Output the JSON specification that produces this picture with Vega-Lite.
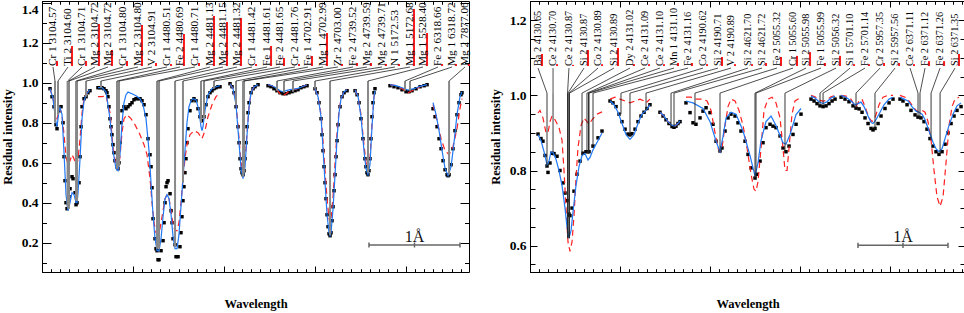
{
"$schema":"https://vega.github.io/schema/vega-lite/v6.json",
"padding":0,
"spacing":17,
"background":"white",
"config":{
 "view":{"stroke":"#000","strokeWidth":1},
 "axis":{"domain":false,"grid":false,"labels":false,"tickColor":"#000","tickWidth":1,"labelFont":"Liberation Serif","labelFontSize":13.5,"labelFontWeight":"bold","labelColor":"#000","titleFont":"Liberation Serif","titleFontSize":12.5,"titleFontWeight":"bold","titleColor":"#000"},
 "text":{"font":"Liberation Serif"}
},
"datasets":{
"lobs":[
{"s":1,"x":0.088,"v":0.97},{"s":1,"x":0.110,"v":0.93},{"s":1,"x":0.132,"v":0.88},{"s":1,"x":0.154,"v":0.79},{"s":1,"x":0.165,"v":0.77},{"s":1,"x":0.187,"v":0.86},{"s":1,"x":0.209,"v":0.88},{"s":1,"x":0.231,"v":0.80},{"s":1,"x":0.242,"v":0.63},{"s":1,"x":0.253,"v":0.51},{"s":1,"x":0.264,"v":0.40},{"s":1,"x":0.275,"v":0.37},{"s":1,"x":0.297,"v":0.43},{"s":1,"x":0.308,"v":0.47},{"s":1,"x":0.330,"v":0.53},{"s":1,"x":0.341,"v":0.52},{"s":1,"x":0.363,"v":0.45},{"s":1,"x":0.374,"v":0.39},{"s":1,"x":0.385,"v":0.40},{"s":1,"x":0.407,"v":0.50},{"s":1,"x":0.418,"v":0.63},{"s":1,"x":0.429,"v":0.78},{"s":1,"x":0.440,"v":0.88},{"s":1,"x":0.462,"v":0.92},{"s":1,"x":0.484,"v":0.93},{"s":1,"x":0.505,"v":0.95},{"s":1,"x":0.527,"v":0.96},
{"s":2,"x":0.615,"v":0.975},{"s":2,"x":0.637,"v":0.975},{"s":2,"x":0.659,"v":0.975},{"s":2,"x":0.681,"v":0.97},{"s":2,"x":0.703,"v":0.96},{"s":2,"x":0.714,"v":0.95},{"s":2,"x":0.725,"v":0.93},{"s":2,"x":0.736,"v":0.88},{"s":2,"x":0.747,"v":0.82},{"s":2,"x":0.758,"v":0.78},{"s":2,"x":0.769,"v":0.74},{"s":2,"x":0.780,"v":0.69},{"s":2,"x":0.791,"v":0.65},{"s":2,"x":0.802,"v":0.61},{"s":2,"x":0.824,"v":0.58},{"s":2,"x":0.835,"v":0.57},{"s":2,"x":0.846,"v":0.60},{"s":2,"x":0.857,"v":0.70},{"s":2,"x":0.868,"v":0.80},{"s":2,"x":0.879,"v":0.86},{"s":2,"x":0.901,"v":0.88},{"s":2,"x":0.923,"v":0.87},{"s":2,"x":0.945,"v":0.88},{"s":2,"x":0.967,"v":0.89},{"s":2,"x":0.989,"v":0.90},{"s":2,"x":1.011,"v":0.915},{"s":2,"x":1.033,"v":0.92},{"s":2,"x":1.055,"v":0.92},{"s":2,"x":1.077,"v":0.92},{"s":2,"x":1.099,"v":0.91},{"s":2,"x":1.121,"v":0.89},{"s":2,"x":1.143,"v":0.84},{"s":2,"x":1.165,"v":0.72},{"s":2,"x":1.187,"v":0.64},{"s":2,"x":1.198,"v":0.58},{"s":2,"x":1.209,"v":0.475},{"s":2,"x":1.220,"v":0.32},{"s":2,"x":1.242,"v":0.22},{"s":2,"x":1.253,"v":0.17},{"s":2,"x":1.264,"v":0.16},{"s":2,"x":1.275,"v":0.115},{"s":2,"x":1.286,"v":0.115},{"s":2,"x":1.308,"v":0.16},{"s":2,"x":1.330,"v":0.21},{"s":2,"x":1.341,"v":0.30},{"s":2,"x":1.352,"v":0.40},{"s":2,"x":1.363,"v":0.48},{"s":2,"x":1.374,"v":0.50},{"s":2,"x":1.385,"v":0.51},{"s":2,"x":1.407,"v":0.445},{"s":2,"x":1.418,"v":0.36},{"s":2,"x":1.429,"v":0.30},{"s":2,"x":1.440,"v":0.22},{"s":2,"x":1.462,"v":0.19},{"s":2,"x":1.473,"v":0.13},{"s":2,"x":1.495,"v":0.13},{"s":2,"x":1.516,"v":0.18},{"s":2,"x":1.527,"v":0.25},{"s":2,"x":1.538,"v":0.33},{"s":2,"x":1.549,"v":0.41},{"s":2,"x":1.560,"v":0.48},{"s":2,"x":1.571,"v":0.55},{"s":2,"x":1.582,"v":0.62},{"s":2,"x":1.593,"v":0.70},{"s":2,"x":1.604,"v":0.77},{"s":2,"x":1.626,"v":0.86},{"s":2,"x":1.648,"v":0.91},{"s":2,"x":1.670,"v":0.92},{"s":2,"x":1.692,"v":0.91},{"s":2,"x":1.714,"v":0.87},{"s":2,"x":1.736,"v":0.83},{"s":2,"x":1.758,"v":0.81},{"s":2,"x":1.780,"v":0.83},{"s":2,"x":1.802,"v":0.89},{"s":2,"x":1.824,"v":0.93},{"s":2,"x":1.846,"v":0.95},{"s":2,"x":1.868,"v":0.96},{"s":2,"x":1.890,"v":0.97},{"s":2,"x":1.912,"v":0.975},{"s":2,"x":1.934,"v":0.98},{"s":2,"x":1.956,"v":0.98},
{"s":3,"x":2.066,"v":0.995},{"s":3,"x":2.088,"v":0.98},{"s":3,"x":2.110,"v":0.95},{"s":3,"x":2.132,"v":0.88},{"s":3,"x":2.154,"v":0.78},{"s":3,"x":2.165,"v":0.70},{"s":3,"x":2.176,"v":0.62},{"s":3,"x":2.187,"v":0.57},{"s":3,"x":2.198,"v":0.55},{"s":3,"x":2.209,"v":0.54},{"s":3,"x":2.220,"v":0.56},{"s":3,"x":2.231,"v":0.62},{"s":3,"x":2.242,"v":0.70},{"s":3,"x":2.253,"v":0.78},{"s":3,"x":2.264,"v":0.85},{"s":3,"x":2.275,"v":0.90},{"s":3,"x":2.297,"v":0.95},{"s":3,"x":2.319,"v":0.97},{"s":3,"x":2.341,"v":0.98},{"s":3,"x":2.374,"v":0.99},
{"s":4,"x":2.484,"v":0.985},{"s":4,"x":2.516,"v":0.98},{"s":4,"x":2.549,"v":0.97},{"s":4,"x":2.582,"v":0.96},{"s":4,"x":2.615,"v":0.95},{"s":4,"x":2.648,"v":0.945},{"s":4,"x":2.681,"v":0.945},{"s":4,"x":2.714,"v":0.95},{"s":4,"x":2.747,"v":0.955},{"s":4,"x":2.780,"v":0.96},{"s":4,"x":2.813,"v":0.965},{"s":4,"x":2.846,"v":0.975},{"s":4,"x":2.879,"v":0.98},{"s":4,"x":2.912,"v":0.985},
{"s":5,"x":3.000,"v":0.97},{"s":5,"x":3.022,"v":0.95},{"s":5,"x":3.044,"v":0.90},{"s":5,"x":3.066,"v":0.82},{"s":5,"x":3.077,"v":0.74},{"s":5,"x":3.088,"v":0.66},{"s":5,"x":3.099,"v":0.58},{"s":5,"x":3.110,"v":0.50},{"s":5,"x":3.121,"v":0.42},{"s":5,"x":3.132,"v":0.34},{"s":5,"x":3.143,"v":0.28},{"s":5,"x":3.154,"v":0.245},{"s":5,"x":3.165,"v":0.235},{"s":5,"x":3.176,"v":0.25},{"s":5,"x":3.187,"v":0.31},{"s":5,"x":3.198,"v":0.38},{"s":5,"x":3.209,"v":0.46},{"s":5,"x":3.220,"v":0.54},{"s":5,"x":3.231,"v":0.63},{"s":5,"x":3.242,"v":0.71},{"s":5,"x":3.253,"v":0.79},{"s":5,"x":3.275,"v":0.88},{"s":5,"x":3.297,"v":0.93},{"s":5,"x":3.319,"v":0.95},{"s":5,"x":3.352,"v":0.96},
{"s":6,"x":3.440,"v":0.96},{"s":6,"x":3.462,"v":0.94},{"s":6,"x":3.484,"v":0.90},{"s":6,"x":3.505,"v":0.82},{"s":6,"x":3.527,"v":0.72},{"s":6,"x":3.549,"v":0.62},{"s":6,"x":3.560,"v":0.58},{"s":6,"x":3.571,"v":0.55},{"s":6,"x":3.582,"v":0.54},{"s":6,"x":3.593,"v":0.56},{"s":6,"x":3.604,"v":0.62},{"s":6,"x":3.615,"v":0.72},{"s":6,"x":3.626,"v":0.83},{"s":6,"x":3.637,"v":0.90},{"s":6,"x":3.648,"v":0.95},{"s":6,"x":3.659,"v":0.97},
{"s":7,"x":3.824,"v":0.985},{"s":7,"x":3.868,"v":0.98},{"s":7,"x":3.912,"v":0.975},{"s":7,"x":3.956,"v":0.965},{"s":7,"x":4.000,"v":0.955},{"s":7,"x":4.033,"v":0.955},{"s":7,"x":4.066,"v":0.96},{"s":7,"x":4.110,"v":0.97},{"s":7,"x":4.154,"v":0.98},{"s":7,"x":4.198,"v":0.985},{"s":7,"x":4.231,"v":0.99},
{"s":8,"x":4.297,"v":0.87},{"s":8,"x":4.319,"v":0.83},{"s":8,"x":4.341,"v":0.78},{"s":8,"x":4.363,"v":0.72},{"s":8,"x":4.385,"v":0.67},{"s":8,"x":4.407,"v":0.61},{"s":8,"x":4.429,"v":0.565},{"s":8,"x":4.451,"v":0.54},{"s":8,"x":4.462,"v":0.535},{"s":8,"x":4.473,"v":0.54},{"s":8,"x":4.495,"v":0.59},{"s":8,"x":4.516,"v":0.67},{"s":8,"x":4.538,"v":0.76},{"s":8,"x":4.560,"v":0.84},{"s":8,"x":4.582,"v":0.90},{"s":8,"x":4.604,"v":0.94},{"s":8,"x":4.615,"v":0.95}
],
"lblue":[
{"s":1,"x":0.088,"v":0.97},{"s":1,"x":0.121,"v":0.92},{"s":1,"x":0.154,"v":0.80},{"s":1,"x":0.165,"v":0.78},{"s":1,"x":0.187,"v":0.86},{"s":1,"x":0.198,"v":0.875},{"s":1,"x":0.220,"v":0.84},{"s":1,"x":0.242,"v":0.65},{"s":1,"x":0.264,"v":0.44},{"s":1,"x":0.286,"v":0.36},{"s":1,"x":0.308,"v":0.40},{"s":1,"x":0.330,"v":0.45},{"s":1,"x":0.352,"v":0.44},{"s":1,"x":0.374,"v":0.40},{"s":1,"x":0.385,"v":0.40},{"s":1,"x":0.396,"v":0.45},{"s":1,"x":0.418,"v":0.62},{"s":1,"x":0.440,"v":0.82},{"s":1,"x":0.462,"v":0.91},{"s":1,"x":0.484,"v":0.94},{"s":1,"x":0.527,"v":0.965},
{"s":2,"x":0.615,"v":0.975},{"s":2,"x":0.659,"v":0.975},{"s":2,"x":0.703,"v":0.955},{"s":2,"x":0.747,"v":0.82},{"s":2,"x":0.780,"v":0.66},{"s":2,"x":0.813,"v":0.57},{"s":2,"x":0.835,"v":0.56},{"s":2,"x":0.857,"v":0.64},{"s":2,"x":0.879,"v":0.80},{"s":2,"x":0.901,"v":0.90},{"s":2,"x":0.923,"v":0.94},{"s":2,"x":0.945,"v":0.953},{"s":2,"x":0.989,"v":0.945},{"s":2,"x":1.033,"v":0.935},{"s":2,"x":1.077,"v":0.92},{"s":2,"x":1.110,"v":0.89},{"s":2,"x":1.143,"v":0.82},{"s":2,"x":1.176,"v":0.66},{"s":2,"x":1.198,"v":0.50},{"s":2,"x":1.220,"v":0.34},{"s":2,"x":1.242,"v":0.22},{"s":2,"x":1.264,"v":0.16},{"s":2,"x":1.286,"v":0.16},{"s":2,"x":1.308,"v":0.22},{"s":2,"x":1.330,"v":0.33},{"s":2,"x":1.352,"v":0.42},{"s":2,"x":1.374,"v":0.44},{"s":2,"x":1.396,"v":0.42},{"s":2,"x":1.418,"v":0.34},{"s":2,"x":1.440,"v":0.23},{"s":2,"x":1.462,"v":0.17},{"s":2,"x":1.484,"v":0.17},{"s":2,"x":1.505,"v":0.24},{"s":2,"x":1.527,"v":0.38},{"s":2,"x":1.549,"v":0.52},{"s":2,"x":1.571,"v":0.66},{"s":2,"x":1.593,"v":0.80},{"s":2,"x":1.615,"v":0.88},{"s":2,"x":1.637,"v":0.91},{"s":2,"x":1.659,"v":0.92},{"s":2,"x":1.692,"v":0.915},{"s":2,"x":1.725,"v":0.86},{"s":2,"x":1.747,"v":0.78},{"s":2,"x":1.758,"v":0.76},{"s":2,"x":1.769,"v":0.78},{"s":2,"x":1.791,"v":0.86},{"s":2,"x":1.824,"v":0.94},{"s":2,"x":1.868,"v":0.97},{"s":2,"x":1.912,"v":0.98},{"s":2,"x":1.956,"v":0.985},
{"s":3,"x":2.066,"v":0.995},{"s":3,"x":2.099,"v":0.97},{"s":3,"x":2.132,"v":0.89},{"s":3,"x":2.165,"v":0.70},{"s":3,"x":2.187,"v":0.57},{"s":3,"x":2.209,"v":0.52},{"s":3,"x":2.231,"v":0.58},{"s":3,"x":2.253,"v":0.74},{"s":3,"x":2.275,"v":0.88},{"s":3,"x":2.297,"v":0.95},{"s":3,"x":2.330,"v":0.98},{"s":3,"x":2.374,"v":0.99},
{"s":4,"x":2.484,"v":0.99},{"s":4,"x":2.527,"v":0.985},{"s":4,"x":2.571,"v":0.975},{"s":4,"x":2.615,"v":0.96},{"s":4,"x":2.648,"v":0.955},{"s":4,"x":2.681,"v":0.96},{"s":4,"x":2.725,"v":0.965},{"s":4,"x":2.769,"v":0.968},{"s":4,"x":2.813,"v":0.972},{"s":4,"x":2.857,"v":0.98},{"s":4,"x":2.912,"v":0.99},
{"s":5,"x":3.000,"v":0.97},{"s":5,"x":3.033,"v":0.93},{"s":5,"x":3.066,"v":0.83},{"s":5,"x":3.088,"v":0.67},{"s":5,"x":3.110,"v":0.50},{"s":5,"x":3.132,"v":0.34},{"s":5,"x":3.154,"v":0.25},{"s":5,"x":3.165,"v":0.235},{"s":5,"x":3.176,"v":0.25},{"s":5,"x":3.198,"v":0.37},{"s":5,"x":3.220,"v":0.54},{"s":5,"x":3.242,"v":0.72},{"s":5,"x":3.264,"v":0.85},{"s":5,"x":3.286,"v":0.92},{"s":5,"x":3.319,"v":0.955},{"s":5,"x":3.352,"v":0.965},
{"s":6,"x":3.440,"v":0.965},{"s":6,"x":3.473,"v":0.93},{"s":6,"x":3.505,"v":0.83},{"s":6,"x":3.538,"v":0.66},{"s":6,"x":3.560,"v":0.57},{"s":6,"x":3.582,"v":0.54},{"s":6,"x":3.604,"v":0.59},{"s":6,"x":3.626,"v":0.78},{"s":6,"x":3.648,"v":0.93},{"s":6,"x":3.659,"v":0.96},
{"s":7,"x":3.824,"v":0.99},{"s":7,"x":3.890,"v":0.985},{"s":7,"x":3.956,"v":0.975},{"s":7,"x":4.022,"v":0.963},{"s":7,"x":4.088,"v":0.97},{"s":7,"x":4.154,"v":0.982},{"s":7,"x":4.231,"v":0.99},
{"s":8,"x":4.297,"v":0.90},{"s":8,"x":4.330,"v":0.84},{"s":8,"x":4.363,"v":0.76},{"s":8,"x":4.396,"v":0.66},{"s":8,"x":4.429,"v":0.57},{"s":8,"x":4.462,"v":0.535},{"s":8,"x":4.495,"v":0.58},{"s":8,"x":4.527,"v":0.70},{"s":8,"x":4.560,"v":0.84},{"s":8,"x":4.593,"v":0.93},{"s":8,"x":4.615,"v":0.955}
],
"lred":[
{"s":1,"x":0.088,"v":0.97},{"s":1,"x":0.121,"v":0.92},{"s":1,"x":0.154,"v":0.83},{"s":1,"x":0.165,"v":0.82},{"s":1,"x":0.187,"v":0.86},{"s":1,"x":0.198,"v":0.87},{"s":1,"x":0.220,"v":0.84},{"s":1,"x":0.242,"v":0.74},{"s":1,"x":0.264,"v":0.63},{"s":1,"x":0.286,"v":0.59},{"s":1,"x":0.308,"v":0.61},{"s":1,"x":0.330,"v":0.64},{"s":1,"x":0.352,"v":0.62},{"s":1,"x":0.374,"v":0.59},{"s":1,"x":0.385,"v":0.59},{"s":1,"x":0.396,"v":0.62},{"s":1,"x":0.418,"v":0.72},{"s":1,"x":0.440,"v":0.85},{"s":1,"x":0.462,"v":0.92},{"s":1,"x":0.484,"v":0.945},{"s":1,"x":0.527,"v":0.965},
{"s":2,"x":0.615,"v":0.93},{"s":2,"x":0.659,"v":0.93},{"s":2,"x":0.703,"v":0.935},{"s":2,"x":0.747,"v":0.85},{"s":2,"x":0.780,"v":0.68},{"s":2,"x":0.813,"v":0.58},{"s":2,"x":0.835,"v":0.57},{"s":2,"x":0.857,"v":0.63},{"s":2,"x":0.879,"v":0.75},{"s":2,"x":0.901,"v":0.82},{"s":2,"x":0.934,"v":0.84},{"s":2,"x":0.978,"v":0.82},{"s":2,"x":1.022,"v":0.79},{"s":2,"x":1.077,"v":0.74},{"s":2,"x":1.121,"v":0.69},{"s":2,"x":1.154,"v":0.64},{"s":2,"x":1.187,"v":0.52},{"s":2,"x":1.209,"v":0.40},{"s":2,"x":1.231,"v":0.30},{"s":2,"x":1.253,"v":0.25},{"s":2,"x":1.275,"v":0.24},{"s":2,"x":1.297,"v":0.27},{"s":2,"x":1.330,"v":0.36},{"s":2,"x":1.352,"v":0.42},{"s":2,"x":1.374,"v":0.44},{"s":2,"x":1.396,"v":0.42},{"s":2,"x":1.418,"v":0.36},{"s":2,"x":1.440,"v":0.29},{"s":2,"x":1.462,"v":0.26},{"s":2,"x":1.484,"v":0.26},{"s":2,"x":1.505,"v":0.30},{"s":2,"x":1.527,"v":0.40},{"s":2,"x":1.549,"v":0.52},{"s":2,"x":1.571,"v":0.62},{"s":2,"x":1.593,"v":0.69},{"s":2,"x":1.626,"v":0.74},{"s":2,"x":1.670,"v":0.76},{"s":2,"x":1.714,"v":0.75},{"s":2,"x":1.758,"v":0.72},{"s":2,"x":1.791,"v":0.76},{"s":2,"x":1.824,"v":0.83},{"s":2,"x":1.868,"v":0.89},{"s":2,"x":1.912,"v":0.93},{"s":2,"x":1.956,"v":0.95},
{"s":3,"x":2.066,"v":0.995},{"s":3,"x":2.099,"v":0.97},{"s":3,"x":2.132,"v":0.90},{"s":3,"x":2.165,"v":0.72},{"s":3,"x":2.187,"v":0.60},{"s":3,"x":2.209,"v":0.555},{"s":3,"x":2.231,"v":0.60},{"s":3,"x":2.253,"v":0.75},{"s":3,"x":2.275,"v":0.88},{"s":3,"x":2.297,"v":0.95},{"s":3,"x":2.330,"v":0.98},{"s":3,"x":2.374,"v":0.99},
{"s":4,"x":2.484,"v":0.99},{"s":4,"x":2.527,"v":0.985},{"s":4,"x":2.571,"v":0.97},{"s":4,"x":2.615,"v":0.945},{"s":4,"x":2.648,"v":0.935},{"s":4,"x":2.681,"v":0.945},{"s":4,"x":2.725,"v":0.96},{"s":4,"x":2.769,"v":0.965},{"s":4,"x":2.813,"v":0.97},{"s":4,"x":2.857,"v":0.98},{"s":4,"x":2.912,"v":0.99},
{"s":5,"x":3.000,"v":0.97},{"s":5,"x":3.033,"v":0.93},{"s":5,"x":3.066,"v":0.84},{"s":5,"x":3.088,"v":0.71},{"s":5,"x":3.110,"v":0.56},{"s":5,"x":3.132,"v":0.42},{"s":5,"x":3.154,"v":0.32},{"s":5,"x":3.165,"v":0.30},{"s":5,"x":3.176,"v":0.32},{"s":5,"x":3.198,"v":0.43},{"s":5,"x":3.220,"v":0.60},{"s":5,"x":3.242,"v":0.75},{"s":5,"x":3.264,"v":0.86},{"s":5,"x":3.286,"v":0.92},{"s":5,"x":3.319,"v":0.955},{"s":5,"x":3.352,"v":0.965},
{"s":6,"x":3.440,"v":0.965},{"s":6,"x":3.473,"v":0.93},{"s":6,"x":3.505,"v":0.84},{"s":6,"x":3.538,"v":0.69},{"s":6,"x":3.560,"v":0.60},{"s":6,"x":3.582,"v":0.57},{"s":6,"x":3.604,"v":0.62},{"s":6,"x":3.626,"v":0.79},{"s":6,"x":3.648,"v":0.93},{"s":6,"x":3.659,"v":0.96},
{"s":7,"x":3.824,"v":0.99},{"s":7,"x":3.890,"v":0.985},{"s":7,"x":3.956,"v":0.97},{"s":7,"x":4.022,"v":0.95},{"s":7,"x":4.088,"v":0.965},{"s":7,"x":4.154,"v":0.98},{"s":7,"x":4.231,"v":0.99},
{"s":8,"x":4.297,"v":0.89},{"s":8,"x":4.341,"v":0.81},{"s":8,"x":4.385,"v":0.72},{"s":8,"x":4.429,"v":0.66},{"s":8,"x":4.473,"v":0.64},{"s":8,"x":4.516,"v":0.68},{"s":8,"x":4.560,"v":0.77},{"s":8,"x":4.593,"v":0.87},{"s":8,"x":4.615,"v":0.92}
],
"llab":[
{"label":"Cr 1 3104.57","lx":0.121,"tx":0.143,"vb":0.80,"rt":1.1085},
{"label":"Ti 2 3104.60","lx":0.286,"tx":0.176,"vb":0.84,"rt":1.1835},
{"label":"Cr 1 3104.71","lx":0.440,"tx":0.281,"vb":0.38,"rt":1.1085},
{"label":"Mg 2 3104.72","lx":0.582,"tx":0.291,"vb":0.37,"rt":1.2935},
{"label":"Mg 2 3104.72","lx":0.725,"tx":0.297,"vb":0.37,"rt":1.1635},
{"label":"Cr 1 3104.80","lx":0.890,"tx":0.374,"vb":0.41,"rt":1.1085},
{"label":"Mg 2 3104.80","lx":1.055,"tx":0.385,"vb":0.41,"rt":1.2885},
{"label":"V 2 3104.91","lx":1.209,"tx":0.484,"vb":0.93,"rt":1.0985},
{"label":"Cr 1 4480.51","lx":1.374,"tx":0.648,"vb":0.975,"rt":1.0935},
{"label":"Fe 2 4480.69","lx":1.516,"tx":0.824,"vb":0.57,"rt":1.2435},
{"label":"Cr 1 4480.71","lx":1.681,"tx":0.846,"vb":0.58,"rt":1.0985},
{"label":"Mg 2 4481.13","lx":1.846,"tx":1.264,"vb":0.17,"rt":1.3335},
{"label":"Mg 2 4481.15","lx":1.989,"tx":1.286,"vb":0.17,"rt":1.3035},
{"label":"Mg 2 4481.32","lx":2.143,"tx":1.462,"vb":0.18,"rt":1.3235},
{"label":"Cr 1 4481.42","lx":2.308,"tx":1.549,"vb":0.50,"rt":1.0935},
{"label":"Fe 1 4481.61","lx":2.473,"tx":1.747,"vb":0.80,"rt":1.1835},
{"label":"Fe 2 4481.65","lx":2.615,"tx":1.780,"vb":0.82,"rt":1.1235},
{"label":"Cr 2 4481.76","lx":2.780,"tx":1.890,"vb":0.97,"rt":1.0935},
{"label":"Fe 1 4702.91","lx":2.923,"tx":2.132,"vb":0.89,"rt":1.1335},
{"label":"Mg 1 4702.99","lx":3.088,"tx":2.209,"vb":0.53,"rt":1.2485},
{"label":"Zr 2 4703.00","lx":3.253,"tx":2.220,"vb":0.55,"rt":1.0935},
{"label":"Fe 2 4739.52","lx":3.418,"tx":2.582,"vb":0.96,"rt":1.0985},
{"label":"Mg 2 4739.59","lx":3.571,"tx":2.659,"vb":0.95,"rt":1.0985},
{"label":"Mg 2 4739.71","lx":3.736,"tx":2.758,"vb":0.955,"rt":1.0935},
{"label":"N 1 5172.53","lx":3.879,"tx":3.000,"vb":0.97,"rt":1.0935},
{"label":"Mg 1 5172.68","lx":4.044,"tx":3.165,"vb":0.24,"rt":1.3685},
{"label":"Mg 1 5528.40","lx":4.187,"tx":3.582,"vb":0.55,"rt":1.2485},
{"label":"Fe 2 6318.66","lx":4.352,"tx":3.989,"vb":0.96,"rt":1.0935},
{"label":"Mg 1 6318.72","lx":4.505,"tx":4.044,"vb":0.96,"rt":1.0935},
{"label":"Mg 2 7877.06","lx":4.648,"tx":4.473,"vb":0.54,"rt":1.0935}
],
"robs":[
{"s":1,"x":0.089,"v":0.897},{"s":1,"x":0.122,"v":0.885},{"s":1,"x":0.144,"v":0.878},{"s":1,"x":0.167,"v":0.84},{"s":1,"x":0.189,"v":0.812},{"s":1,"x":0.2,"v":0.795},{"s":1,"x":0.222,"v":0.82},{"s":1,"x":0.244,"v":0.846},{"s":1,"x":0.267,"v":0.845},{"s":1,"x":0.3,"v":0.838},{"s":1,"x":0.333,"v":0.80},{"s":1,"x":0.367,"v":0.767},{"s":1,"x":0.389,"v":0.74},{"s":1,"x":0.411,"v":0.72},{"s":1,"x":0.433,"v":0.684},{"s":1,"x":0.444,"v":0.68},{"s":1,"x":0.467,"v":0.70},{"s":1,"x":0.489,"v":0.745},{"s":1,"x":0.522,"v":0.79},{"s":1,"x":0.556,"v":0.825},{"s":1,"x":0.589,"v":0.846},{"s":1,"x":0.622,"v":0.85},{"s":1,"x":0.656,"v":0.85},{"s":1,"x":0.7,"v":0.865},{"s":1,"x":0.756,"v":0.887},{"s":1,"x":0.8,"v":0.905},
{"s":2,"x":0.889,"v":0.985},{"s":2,"x":0.922,"v":0.98},{"s":2,"x":0.956,"v":0.97},{"s":2,"x":0.989,"v":0.95},{"s":2,"x":1.022,"v":0.93},{"s":2,"x":1.056,"v":0.91},{"s":2,"x":1.089,"v":0.897},{"s":2,"x":1.111,"v":0.895},{"s":2,"x":1.133,"v":0.898},{"s":2,"x":1.167,"v":0.91},{"s":2,"x":1.2,"v":0.93},{"s":2,"x":1.233,"v":0.945},{"s":2,"x":1.267,"v":0.955},{"s":2,"x":1.3,"v":0.965},{"s":2,"x":1.333,"v":0.975},
{"s":3,"x":1.444,"v":0.955},{"s":3,"x":1.478,"v":0.945},{"s":3,"x":1.511,"v":0.935},{"s":3,"x":1.544,"v":0.925},{"s":3,"x":1.578,"v":0.917},{"s":3,"x":1.6,"v":0.915},{"s":3,"x":1.622,"v":0.918},{"s":3,"x":1.644,"v":0.925},{"s":3,"x":1.667,"v":0.93},
{"s":4,"x":1.733,"v":0.98},{"s":4,"x":1.778,"v":0.954},{"s":4,"x":1.811,"v":0.927},{"s":4,"x":1.844,"v":0.923},{"s":4,"x":1.889,"v":0.94},{"s":4,"x":1.922,"v":0.958},{"s":4,"x":1.956,"v":0.967},{"s":4,"x":2.0,"v":0.954},{"s":4,"x":2.033,"v":0.923},{"s":4,"x":2.067,"v":0.878},{"s":4,"x":2.111,"v":0.852},{"s":4,"x":2.133,"v":0.86},{"s":4,"x":2.167,"v":0.905},{"s":4,"x":2.2,"v":0.94},{"s":4,"x":2.233,"v":0.95},{"s":4,"x":2.278,"v":0.945},{"s":4,"x":2.311,"v":0.927},{"s":4,"x":2.344,"v":0.905},{"s":4,"x":2.389,"v":0.878},{"s":4,"x":2.422,"v":0.843},{"s":4,"x":2.456,"v":0.807},{"s":4,"x":2.5,"v":0.78},{"s":4,"x":2.522,"v":0.79},{"s":4,"x":2.556,"v":0.825},{"s":4,"x":2.589,"v":0.874},{"s":4,"x":2.622,"v":0.914},{"s":4,"x":2.667,"v":0.923},{"s":4,"x":2.7,"v":0.918},{"s":4,"x":2.733,"v":0.914},{"s":4,"x":2.778,"v":0.892},{"s":4,"x":2.811,"v":0.86},{"s":4,"x":2.844,"v":0.85},{"s":4,"x":2.878,"v":0.865},{"s":4,"x":2.922,"v":0.896},{"s":4,"x":2.956,"v":0.923},{"s":4,"x":3.011,"v":0.95},
{"s":5,"x":3.122,"v":0.99},{"s":5,"x":3.156,"v":0.985},{"s":5,"x":3.189,"v":0.978},{"s":5,"x":3.222,"v":0.972},{"s":5,"x":3.256,"v":0.97},{"s":5,"x":3.289,"v":0.972},{"s":5,"x":3.322,"v":0.978},{"s":5,"x":3.356,"v":0.985},{"s":5,"x":3.389,"v":0.99},
{"s":6,"x":3.456,"v":0.995},{"s":6,"x":3.5,"v":0.99},{"s":6,"x":3.544,"v":0.983},{"s":6,"x":3.589,"v":0.972},{"s":6,"x":3.622,"v":0.966},{"s":6,"x":3.656,"v":0.964},{"s":6,"x":3.689,"v":0.955},{"s":6,"x":3.722,"v":0.94},{"s":6,"x":3.756,"v":0.925},{"s":6,"x":3.789,"v":0.912},{"s":6,"x":3.811,"v":0.908},{"s":6,"x":3.833,"v":0.912},{"s":6,"x":3.867,"v":0.925},{"s":6,"x":3.9,"v":0.945},{"s":6,"x":3.944,"v":0.965},{"s":6,"x":3.989,"v":0.98},{"s":6,"x":4.033,"v":0.99},
{"s":7,"x":4.111,"v":0.99},{"s":7,"x":4.144,"v":0.985},{"s":7,"x":4.189,"v":0.975},{"s":7,"x":4.233,"v":0.96},{"s":7,"x":4.278,"v":0.948},{"s":7,"x":4.311,"v":0.942},{"s":7,"x":4.344,"v":0.94},{"s":7,"x":4.378,"v":0.93},{"s":7,"x":4.411,"v":0.91},{"s":7,"x":4.444,"v":0.885},{"s":7,"x":4.478,"v":0.865},{"s":7,"x":4.511,"v":0.85},{"s":7,"x":4.544,"v":0.843},{"s":7,"x":4.578,"v":0.85},{"s":7,"x":4.611,"v":0.87},{"s":7,"x":4.644,"v":0.9},{"s":7,"x":4.678,"v":0.925},{"s":7,"x":4.711,"v":0.945},{"s":7,"x":4.744,"v":0.96},{"s":7,"x":4.789,"v":0.97}
],
"rblue":[
{"s":1,"x":0.089,"v":0.895},{"s":1,"x":0.122,"v":0.88},{"s":1,"x":0.156,"v":0.85},{"s":1,"x":0.189,"v":0.815},{"s":1,"x":0.211,"v":0.825},{"s":1,"x":0.233,"v":0.85},{"s":1,"x":0.256,"v":0.848},{"s":1,"x":0.289,"v":0.83},{"s":1,"x":0.322,"v":0.80},{"s":1,"x":0.356,"v":0.76},{"s":1,"x":0.389,"v":0.70},{"s":1,"x":0.411,"v":0.65},{"s":1,"x":0.433,"v":0.62},{"s":1,"x":0.456,"v":0.64},{"s":1,"x":0.478,"v":0.69},{"s":1,"x":0.511,"v":0.76},{"s":1,"x":0.544,"v":0.81},{"s":1,"x":0.578,"v":0.84},{"s":1,"x":0.611,"v":0.845},{"s":1,"x":0.644,"v":0.828},{"s":1,"x":0.667,"v":0.835},{"s":1,"x":0.7,"v":0.855},{"s":1,"x":0.756,"v":0.88},{"s":1,"x":0.8,"v":0.90},
{"s":2,"x":0.889,"v":0.985},{"s":2,"x":0.933,"v":0.975},{"s":2,"x":0.978,"v":0.955},{"s":2,"x":1.022,"v":0.925},{"s":2,"x":1.067,"v":0.895},{"s":2,"x":1.111,"v":0.883},{"s":2,"x":1.156,"v":0.895},{"s":2,"x":1.2,"v":0.925},{"s":2,"x":1.244,"v":0.95},{"s":2,"x":1.289,"v":0.96},{"s":2,"x":1.333,"v":0.975},
{"s":3,"x":1.444,"v":0.955},{"s":3,"x":1.489,"v":0.945},{"s":3,"x":1.533,"v":0.93},{"s":3,"x":1.578,"v":0.92},{"s":3,"x":1.611,"v":0.918},{"s":3,"x":1.644,"v":0.925},{"s":3,"x":1.667,"v":0.932},
{"s":4,"x":1.733,"v":0.985},{"s":4,"x":1.811,"v":0.98},{"s":4,"x":1.922,"v":0.965},{"s":4,"x":2.0,"v":0.93},{"s":4,"x":2.067,"v":0.878},{"s":4,"x":2.111,"v":0.85},{"s":4,"x":2.144,"v":0.89},{"s":4,"x":2.178,"v":0.94},{"s":4,"x":2.233,"v":0.955},{"s":4,"x":2.289,"v":0.95},{"s":4,"x":2.367,"v":0.905},{"s":4,"x":2.444,"v":0.84},{"s":4,"x":2.5,"v":0.785},{"s":4,"x":2.533,"v":0.82},{"s":4,"x":2.567,"v":0.88},{"s":4,"x":2.622,"v":0.93},{"s":4,"x":2.678,"v":0.945},{"s":4,"x":2.733,"v":0.92},{"s":4,"x":2.811,"v":0.874},{"s":4,"x":2.844,"v":0.87},{"s":4,"x":2.889,"v":0.896},{"s":4,"x":2.956,"v":0.949},{"s":4,"x":3.011,"v":0.965},
{"s":5,"x":3.122,"v":0.998},{"s":5,"x":3.167,"v":0.993},{"s":5,"x":3.211,"v":0.983},{"s":5,"x":3.256,"v":0.978},{"s":5,"x":3.3,"v":0.983},{"s":5,"x":3.344,"v":0.993},{"s":5,"x":3.389,"v":0.998},
{"s":6,"x":3.456,"v":1.0},{"s":6,"x":3.511,"v":0.995},{"s":6,"x":3.567,"v":0.985},{"s":6,"x":3.611,"v":0.975},{"s":6,"x":3.644,"v":0.978},{"s":6,"x":3.678,"v":0.982},{"s":6,"x":3.711,"v":0.97},{"s":6,"x":3.756,"v":0.945},{"s":6,"x":3.789,"v":0.928},{"s":6,"x":3.811,"v":0.925},{"s":6,"x":3.844,"v":0.935},{"s":6,"x":3.889,"v":0.955},{"s":6,"x":3.933,"v":0.975},{"s":6,"x":3.989,"v":0.99},{"s":6,"x":4.033,"v":0.995},
{"s":7,"x":4.111,"v":0.995},{"s":7,"x":4.156,"v":0.99},{"s":7,"x":4.2,"v":0.985},{"s":7,"x":4.244,"v":0.97},{"s":7,"x":4.289,"v":0.958},{"s":7,"x":4.322,"v":0.955},{"s":7,"x":4.356,"v":0.95},{"s":7,"x":4.389,"v":0.935},{"s":7,"x":4.433,"v":0.905},{"s":7,"x":4.478,"v":0.875},{"s":7,"x":4.511,"v":0.858},{"s":7,"x":4.544,"v":0.85},{"s":7,"x":4.578,"v":0.858},{"s":7,"x":4.611,"v":0.885},{"s":7,"x":4.656,"v":0.92},{"s":7,"x":4.7,"v":0.95},{"s":7,"x":4.744,"v":0.972},{"s":7,"x":4.789,"v":0.98}
],
"rred":[
{"s":1,"x":0.089,"v":0.953},{"s":1,"x":0.111,"v":0.96},{"s":1,"x":0.144,"v":0.94},{"s":1,"x":0.178,"v":0.90},{"s":1,"x":0.2,"v":0.90},{"s":1,"x":0.222,"v":0.93},{"s":1,"x":0.244,"v":0.945},{"s":1,"x":0.278,"v":0.935},{"s":1,"x":0.322,"v":0.915},{"s":1,"x":0.356,"v":0.88},{"s":1,"x":0.378,"v":0.80},{"s":1,"x":0.4,"v":0.70},{"s":1,"x":0.422,"v":0.61},{"s":1,"x":0.444,"v":0.585},{"s":1,"x":0.467,"v":0.61},{"s":1,"x":0.489,"v":0.68},{"s":1,"x":0.511,"v":0.78},{"s":1,"x":0.533,"v":0.86},{"s":1,"x":0.567,"v":0.92},{"s":1,"x":0.6,"v":0.94},{"s":1,"x":0.633,"v":0.93},{"s":1,"x":0.656,"v":0.923},{"s":1,"x":0.689,"v":0.935},{"s":1,"x":0.744,"v":0.95},{"s":1,"x":0.8,"v":0.956},
{"s":2,"x":0.889,"v":0.99},{"s":2,"x":0.944,"v":0.995},{"s":2,"x":1.0,"v":0.99},{"s":2,"x":1.056,"v":0.985},{"s":2,"x":1.111,"v":0.98},{"s":2,"x":1.167,"v":0.985},{"s":2,"x":1.222,"v":0.99},{"s":2,"x":1.267,"v":0.985},{"s":2,"x":1.289,"v":0.98},{"s":2,"x":1.311,"v":0.985},{"s":2,"x":1.333,"v":0.99},
{"s":3,"x":1.444,"v":0.955},{"s":3,"x":1.489,"v":0.945},{"s":3,"x":1.533,"v":0.93},{"s":3,"x":1.578,"v":0.92},{"s":3,"x":1.611,"v":0.918},{"s":3,"x":1.644,"v":0.925},{"s":3,"x":1.667,"v":0.932},
{"s":4,"x":1.733,"v":0.995},{"s":4,"x":1.789,"v":0.995},{"s":4,"x":1.833,"v":0.99},{"s":4,"x":1.878,"v":0.99},{"s":4,"x":1.922,"v":0.99},{"s":4,"x":1.967,"v":0.985},{"s":4,"x":2.011,"v":0.96},{"s":4,"x":2.056,"v":0.90},{"s":4,"x":2.089,"v":0.86},{"s":4,"x":2.111,"v":0.85},{"s":4,"x":2.133,"v":0.86},{"s":4,"x":2.167,"v":0.92},{"s":4,"x":2.2,"v":0.97},{"s":4,"x":2.233,"v":0.99},{"s":4,"x":2.278,"v":0.985},{"s":4,"x":2.322,"v":0.96},{"s":4,"x":2.367,"v":0.92},{"s":4,"x":2.411,"v":0.86},{"s":4,"x":2.456,"v":0.79},{"s":4,"x":2.489,"v":0.75},{"s":4,"x":2.511,"v":0.745},{"s":4,"x":2.533,"v":0.77},{"s":4,"x":2.567,"v":0.86},{"s":4,"x":2.6,"v":0.96},{"s":4,"x":2.644,"v":0.99},{"s":4,"x":2.689,"v":0.995},{"s":4,"x":2.733,"v":0.98},{"s":4,"x":2.778,"v":0.94},{"s":4,"x":2.811,"v":0.86},{"s":4,"x":2.833,"v":0.80},{"s":4,"x":2.856,"v":0.80},{"s":4,"x":2.878,"v":0.86},{"s":4,"x":2.911,"v":0.95},{"s":4,"x":2.944,"v":0.985},{"s":4,"x":3.011,"v":0.995},
{"s":5,"x":3.122,"v":1.0},{"s":5,"x":3.167,"v":0.996},{"s":5,"x":3.211,"v":0.988},{"s":5,"x":3.256,"v":0.984},{"s":5,"x":3.3,"v":0.988},{"s":5,"x":3.344,"v":0.996},{"s":5,"x":3.389,"v":1.0},
{"s":6,"x":3.456,"v":1.0},{"s":6,"x":3.511,"v":0.998},{"s":6,"x":3.567,"v":0.99},{"s":6,"x":3.6,"v":0.975},{"s":6,"x":3.622,"v":0.97},{"s":6,"x":3.656,"v":0.985},{"s":6,"x":3.689,"v":0.99},{"s":6,"x":3.722,"v":0.97},{"s":6,"x":3.767,"v":0.94},{"s":6,"x":3.8,"v":0.93},{"s":6,"x":3.833,"v":0.94},{"s":6,"x":3.878,"v":0.975},{"s":6,"x":3.922,"v":0.995},{"s":6,"x":3.978,"v":1.0},{"s":6,"x":4.033,"v":1.0},
{"s":7,"x":4.111,"v":1.0},{"s":7,"x":4.167,"v":0.995},{"s":7,"x":4.211,"v":0.985},{"s":7,"x":4.256,"v":0.97},{"s":7,"x":4.289,"v":0.96},{"s":7,"x":4.322,"v":0.955},{"s":7,"x":4.356,"v":0.96},{"s":7,"x":4.389,"v":0.955},{"s":7,"x":4.422,"v":0.93},{"s":7,"x":4.456,"v":0.88},{"s":7,"x":4.489,"v":0.80},{"s":7,"x":4.522,"v":0.73},{"s":7,"x":4.556,"v":0.705},{"s":7,"x":4.589,"v":0.73},{"s":7,"x":4.622,"v":0.82},{"s":7,"x":4.656,"v":0.92},{"s":7,"x":4.689,"v":0.97},{"s":7,"x":4.722,"v":0.99},{"s":7,"x":4.767,"v":0.995}
],
"rlab":[
{"label":"Ba 2 4130.65","lx":0.089,"tx":0.189,"vb":0.81,"rt":1.110},
{"label":"Ce 2 4130.70","lx":0.256,"tx":0.256,"vb":0.85,"rt":1.083},
{"label":"Ce 2 4130.87","lx":0.433,"tx":0.417,"vb":0.62,"rt":1.081},
{"label":"Si 2 4130.87","lx":0.600,"tx":0.422,"vb":0.62,"rt":1.1205},
{"label":"Co 2 4130.89","lx":0.756,"tx":0.433,"vb":0.62,"rt":1.083},
{"label":"Si 2 4130.89","lx":0.933,"tx":0.439,"vb":0.62,"rt":1.126},
{"label":"Dy 2 4131.02","lx":1.111,"tx":0.578,"vb":0.84,"rt":1.083},
{"label":"Ce 2 4131.09","lx":1.278,"tx":0.633,"vb":0.845,"rt":1.083},
{"label":"Ce 2 4131.10","lx":1.444,"tx":0.650,"vb":0.845,"rt":1.083},
{"label":"Mn 1 4131.10","lx":1.600,"tx":0.656,"vb":0.845,"rt":1.086},
{"label":"Fe 2 4131.16","lx":1.756,"tx":0.700,"vb":0.86,"rt":1.086},
{"label":"Co 2 4190.62","lx":1.922,"tx":1.011,"vb":0.95,"rt":1.083},
{"label":"Si 2 4190.71","lx":2.089,"tx":1.111,"vb":0.89,"rt":1.102},
{"label":"V 2 4190.89","lx":2.233,"tx":1.289,"vb":0.96,"rt":1.083},
{"label":"Si 2 4621.70","lx":2.422,"tx":1.567,"vb":0.92,"rt":1.083},
{"label":"Si 2 4621.72","lx":2.578,"tx":1.600,"vb":0.915,"rt":1.086},
{"label":"Fe 2 5055.32","lx":2.744,"tx":1.833,"vb":0.923,"rt":1.102},
{"label":"Cr 1 5055.60","lx":2.922,"tx":2.111,"vb":0.85,"rt":1.105},
{"label":"Si 2 5055.98","lx":3.067,"tx":2.500,"vb":0.78,"rt":1.115},
{"label":"Fe 1 5055.99","lx":3.233,"tx":2.511,"vb":0.78,"rt":1.086},
{"label":"Si 2 5056.32","lx":3.400,"tx":2.833,"vb":0.85,"rt":1.105},
{"label":"Si 1 5701.10","lx":3.556,"tx":3.222,"vb":0.975,"rt":1.083},
{"label":"Fe 2 5701.14","lx":3.722,"tx":3.256,"vb":0.972,"rt":1.083},
{"label":"Cr 2 5957.35","lx":3.889,"tx":3.622,"vb":0.966,"rt":1.086},
{"label":"Si 2 5957.56","lx":4.056,"tx":3.833,"vb":0.91,"rt":1.086},
{"label":"Ce 2 6371.11","lx":4.222,"tx":4.311,"vb":0.942,"rt":1.083},
{"label":"Fe 2 6371.12","lx":4.389,"tx":4.333,"vb":0.942,"rt":1.091},
{"label":"Fe 2 6371.26","lx":4.556,"tx":4.456,"vb":0.88,"rt":1.091},
{"label":"Si 2 6371.35","lx":4.722,"tx":4.556,"vb":0.845,"rt":1.110}
]
},
"hconcat":[
{
"width":427,"height":271,
"resolve":{"axis":{"x":"independent","y":"independent"}},
"layer":[
{"data":{"name":"lobs"},"mark":{"type":"square","size":12,"color":"#000","opacity":1},
 "encoding":{
  "x":{"field":"x","type":"quantitative","scale":{"domain":[0,4.692],"nice":false,"zero":false},"axis":{"orient":"bottom","values":[0,0.1,0.2,0.3,0.4,0.5,0.6,0.7,0.8,0.9,1,1.1,1.2,1.3,1.4,1.5,1.6,1.7,1.8,1.9,2,2.1,2.2,2.3,2.4,2.5,2.6,2.7,2.8,2.9,3,3.1,3.2,3.3,3.4,3.5,3.6,3.7,3.8,3.9,4,4.1,4.2,4.3,4.4,4.5,4.6],"tickSize":-3.3,"title":null}},
  "y":{"field":"v","type":"quantitative","scale":{"domain":[0.0535,1.4085],"nice":false,"zero":false},"axis":{"orient":"left","values":[0.1,0.2,0.3,0.4,0.5,0.6,0.7,0.8,0.9,1,1.1,1.2,1.3,1.4],"tickSize":-4.5,"title":null}}}},
{"data":{"name":"lred"},"mark":{"type":"line","color":"#ff2020","strokeWidth":1.2,"strokeDash":[6,4]},
 "encoding":{
  "x":{"field":"x","type":"quantitative","scale":{"domain":[0,4.692],"nice":false,"zero":false},"axis":{"orient":"top","values":[0,0.1,0.2,0.3,0.4,0.5,0.6,0.7,0.8,0.9,1,1.1,1.2,1.3,1.4,1.5,1.6,1.7,1.8,1.9,2,2.1,2.2,2.3,2.4,2.5,2.6,2.7,2.8,2.9,3,3.1,3.2,3.3,3.4,3.5,3.6,3.7,3.8,3.9,4,4.1,4.2,4.3,4.4,4.5,4.6],"tickSize":-3.3,"title":null}},
  "y":{"field":"v","type":"quantitative","scale":{"domain":[0.0535,1.4085],"nice":false,"zero":false},"axis":{"orient":"right","values":[0.1,0.2,0.3,0.4,0.5,0.6,0.7,0.8,0.9,1,1.1,1.2,1.3,1.4],"tickSize":-4.5,"title":null}},
  "detail":{"field":"s"}}},
{"data":{"name":"lblue"},"mark":{"type":"line","color":"#1f78f5","strokeWidth":1.2},
 "encoding":{
  "x":{"field":"x","type":"quantitative","scale":{"domain":[0,4.692],"nice":false,"zero":false},"axis":{"orient":"bottom","values":[0,1,2,3,4],"tickSize":-6,"title":"Wavelength","titlePadding":25}},
  "y":{"field":"v","type":"quantitative","scale":{"domain":[0.0535,1.4085],"nice":false,"zero":false},"axis":{"orient":"left","values":[0.2,0.4,0.6,0.8,1,1.2,1.4],"tickSize":-9,"labels":true,"labelPadding":13,"labelFlush":3,"format":".1f","title":"Residual intensity","titlePadding":7}},
  "detail":{"field":"s"}}},
{"data":{"name":"llab"},"mark":{"type":"rule","color":"#888","strokeWidth":2},
 "encoding":{
  "x":{"field":"tx","type":"quantitative","scale":{"domain":[0,4.692],"nice":false,"zero":false},"axis":{"orient":"top","values":[0,1,2,3,4],"tickSize":-6,"title":null}},
  "y":{"field":"vb","type":"quantitative","scale":{"domain":[0.0535,1.4085],"nice":false,"zero":false},"axis":{"orient":"right","values":[0.2,0.4,0.6,0.8,1,1.2,1.4],"tickSize":-9,"title":null}},
  "y2":{"datum":1.0085}}},
{"data":{"name":"llab"},"mark":{"type":"rule","color":"#222","strokeWidth":0.8},
 "encoding":{
  "x":{"field":"lx","type":"quantitative","scale":{"domain":[0,4.692],"nice":false,"zero":false},"axis":null},
  "y":{"datum":1.0785,"type":"quantitative","scale":{"domain":[0.0535,1.4085],"nice":false,"zero":false},"axis":null},
  "x2":{"field":"tx"},
  "y2":{"datum":1.0085}}},
{"data":{"name":"llab"},"mark":{"type":"rule","color":"#ff1a1a","strokeWidth":2,"xOffset":4},
 "encoding":{
  "x":{"field":"lx","type":"quantitative","scale":{"domain":[0,4.692],"nice":false,"zero":false},"axis":null},
  "y":{"field":"rt","type":"quantitative","scale":{"domain":[0.0535,1.4085],"nice":false,"zero":false},"axis":null},
  "y2":{"datum":1.0835}}},
{"data":{"name":"llab"},"mark":{"type":"text","angle":270,"align":"left","baseline":"middle","fontSize":11.3,"color":"#000","font":"Liberation Serif"},
 "encoding":{
  "x":{"field":"lx","type":"quantitative","scale":{"domain":[0,4.692],"nice":false,"zero":false},"axis":null},
  "y":{"datum":1.0835,"type":"quantitative","scale":{"domain":[0.0535,1.4085],"nice":false,"zero":false},"axis":null},
  "text":{"field":"label"}}},
{"data":{"values":[{"x1":3.593,"x2":4.593,"v":0.1885}]},"mark":{"type":"rule","color":"#666","strokeWidth":1.5},
 "encoding":{
  "x":{"field":"x1","type":"quantitative","scale":{"domain":[0,4.692],"nice":false,"zero":false},"axis":null},
  "x2":{"field":"x2"},
  "y":{"field":"v","type":"quantitative","scale":{"domain":[0.0535,1.4085],"nice":false,"zero":false},"axis":null}}},
{"data":{"values":[{"x":3.593},{"x":4.093},{"x":4.593}]},"mark":{"type":"rule","color":"#666","strokeWidth":1.5},
 "encoding":{
  "x":{"field":"x","type":"quantitative","scale":{"domain":[0,4.692],"nice":false,"zero":false},"axis":null},
  "y":{"datum":0.176,"type":"quantitative","scale":{"domain":[0.0535,1.4085],"nice":false,"zero":false},"axis":null},
  "y2":{"datum":0.201}}},
{"data":{"values":[{"x":4.093,"v":0.2035,"t":"1Å"}]},"mark":{"type":"text","align":"center","baseline":"alphabetic","fontSize":16,"color":"#111","font":"Liberation Serif"},
 "encoding":{
  "x":{"field":"x","type":"quantitative","scale":{"domain":[0,4.692],"nice":false,"zero":false},"axis":null},
  "y":{"field":"v","type":"quantitative","scale":{"domain":[0.0535,1.4085],"nice":false,"zero":false},"axis":null},
  "text":{"field":"t"}}}
]
},
{
"width":435,"height":271,
"resolve":{"axis":{"x":"independent","y":"independent"}},
"layer":[
{"data":{"name":"robs"},"mark":{"type":"square","size":12,"color":"#000","opacity":1},
 "encoding":{
  "x":{"field":"x","type":"quantitative","scale":{"domain":[0,4.833],"nice":false,"zero":false},"axis":{"orient":"bottom","values":[0,0.1,0.2,0.3,0.4,0.5,0.6,0.7,0.8,0.9,1,1.1,1.2,1.3,1.4,1.5,1.6,1.7,1.8,1.9,2,2.1,2.2,2.3,2.4,2.5,2.6,2.7,2.8,2.9,3,3.1,3.2,3.3,3.4,3.5,3.6,3.7,3.8,3.9,4,4.1,4.2,4.3,4.4,4.5,4.6,4.7,4.8],"tickSize":-3.3,"title":null}},
  "y":{"field":"v","type":"quantitative","scale":{"domain":[0.53,1.251],"nice":false,"zero":false},"axis":{"orient":"left","values":[0.55,0.6,0.65,0.7,0.75,0.8,0.85,0.9,0.95,1,1.05,1.1,1.15,1.2,1.25],"tickSize":-5,"title":null}}}},
{"data":{"name":"rred"},"mark":{"type":"line","color":"#ff2020","strokeWidth":1.2,"strokeDash":[6,4]},
 "encoding":{
  "x":{"field":"x","type":"quantitative","scale":{"domain":[0,4.833],"nice":false,"zero":false},"axis":{"orient":"top","values":[0,0.1,0.2,0.3,0.4,0.5,0.6,0.7,0.8,0.9,1,1.1,1.2,1.3,1.4,1.5,1.6,1.7,1.8,1.9,2,2.1,2.2,2.3,2.4,2.5,2.6,2.7,2.8,2.9,3,3.1,3.2,3.3,3.4,3.5,3.6,3.7,3.8,3.9,4,4.1,4.2,4.3,4.4,4.5,4.6,4.7,4.8],"tickSize":-3.3,"title":null}},
  "y":{"field":"v","type":"quantitative","scale":{"domain":[0.53,1.251],"nice":false,"zero":false},"axis":{"orient":"right","values":[0.55,0.6,0.65,0.7,0.75,0.8,0.85,0.9,0.95,1,1.05,1.1,1.15,1.2,1.25],"tickSize":-5,"title":null}},
  "detail":{"field":"s"}}},
{"data":{"name":"rblue"},"mark":{"type":"line","color":"#1f78f5","strokeWidth":1.2},
 "encoding":{
  "x":{"field":"x","type":"quantitative","scale":{"domain":[0,4.833],"nice":false,"zero":false},"axis":{"orient":"bottom","values":[0,1,2,3,4],"tickSize":-6,"title":"Wavelength","titlePadding":25}},
  "y":{"field":"v","type":"quantitative","scale":{"domain":[0.53,1.251],"nice":false,"zero":false},"axis":{"orient":"left","values":[0.6,0.8,1,1.2],"tickSize":-7,"labels":true,"labelPadding":11,"format":".1f","title":"Residual intensity","titlePadding":7}},
  "detail":{"field":"s"}}},
{"data":{"name":"rlab"},"mark":{"type":"rule","color":"#222","strokeWidth":0.9},
 "encoding":{
  "x":{"field":"tx","type":"quantitative","scale":{"domain":[0,4.833],"nice":false,"zero":false},"axis":{"orient":"top","values":[0,1,2,3,4],"tickSize":-6,"title":null}},
  "y":{"field":"vb","type":"quantitative","scale":{"domain":[0.53,1.251],"nice":false,"zero":false},"axis":{"orient":"right","values":[0.6,0.8,1,1.2],"tickSize":-7,"title":null}},
  "y2":{"datum":1.006}}},
{"data":{"name":"rlab"},"mark":{"type":"rule","color":"#222","strokeWidth":0.8},
 "encoding":{
  "x":{"field":"lx","type":"quantitative","scale":{"domain":[0,4.833],"nice":false,"zero":false},"axis":null},
  "y":{"datum":1.0726,"type":"quantitative","scale":{"domain":[0.53,1.251],"nice":false,"zero":false},"axis":null},
  "x2":{"field":"tx"},
  "y2":{"datum":1.006}}},
{"data":{"name":"rlab"},"mark":{"type":"rule","color":"#ff1a1a","strokeWidth":2,"xOffset":4},
 "encoding":{
  "x":{"field":"lx","type":"quantitative","scale":{"domain":[0,4.833],"nice":false,"zero":false},"axis":null},
  "y":{"field":"rt","type":"quantitative","scale":{"domain":[0.53,1.251],"nice":false,"zero":false},"axis":null},
  "y2":{"datum":1.078}}},
{"data":{"name":"rlab"},"mark":{"type":"text","angle":270,"align":"left","baseline":"middle","fontSize":10.3,"color":"#000","font":"Liberation Serif"},
 "encoding":{
  "x":{"field":"lx","type":"quantitative","scale":{"domain":[0,4.833],"nice":false,"zero":false},"axis":null},
  "y":{"datum":1.078,"type":"quantitative","scale":{"domain":[0.53,1.251],"nice":false,"zero":false},"axis":null},
  "text":{"field":"label"}}},
{"data":{"values":[{"x1":3.644,"x2":4.644,"v":0.601}]},"mark":{"type":"rule","color":"#666","strokeWidth":1.5},
 "encoding":{
  "x":{"field":"x1","type":"quantitative","scale":{"domain":[0,4.833],"nice":false,"zero":false},"axis":null},
  "x2":{"field":"x2"},
  "y":{"field":"v","type":"quantitative","scale":{"domain":[0.53,1.251],"nice":false,"zero":false},"axis":null}}},
{"data":{"values":[{"x":3.644},{"x":4.144},{"x":4.644}]},"mark":{"type":"rule","color":"#666","strokeWidth":1.5},
 "encoding":{
  "x":{"field":"x","type":"quantitative","scale":{"domain":[0,4.833],"nice":false,"zero":false},"axis":null},
  "y":{"datum":0.594,"type":"quantitative","scale":{"domain":[0.53,1.251],"nice":false,"zero":false},"axis":null},
  "y2":{"datum":0.608}}},
{"data":{"values":[{"x":4.144,"v":0.6096,"t":"1Å"}]},"mark":{"type":"text","align":"center","baseline":"alphabetic","fontSize":16,"color":"#111","font":"Liberation Serif"},
 "encoding":{
  "x":{"field":"x","type":"quantitative","scale":{"domain":[0,4.833],"nice":false,"zero":false},"axis":null},
  "y":{"field":"v","type":"quantitative","scale":{"domain":[0.53,1.251],"nice":false,"zero":false},"axis":null},
  "text":{"field":"t"}}}
]
}
]
}
